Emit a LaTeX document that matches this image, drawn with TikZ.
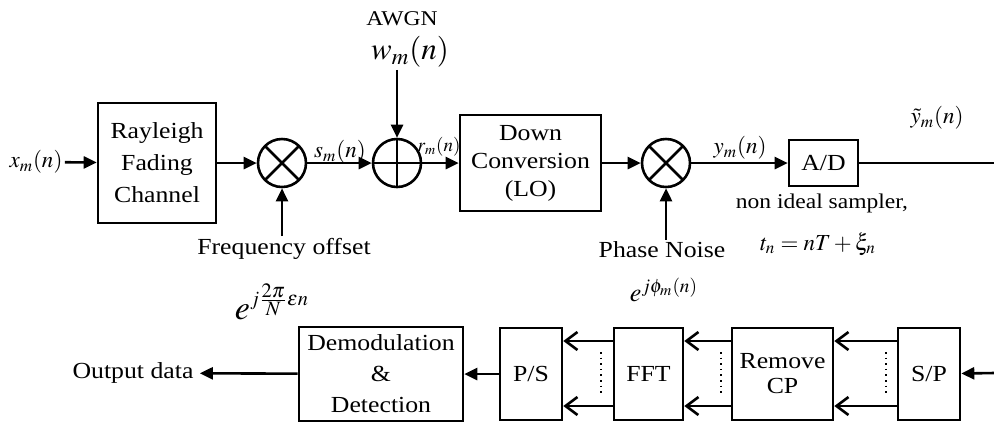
\documentclass[tikz,border=0pt]{standalone}
\usepackage{mathptmx}
\usepackage{fontspec}
\setmainfont{Liberation Serif}[FakeStretch=1.12]
\usetikzlibrary{arrows.meta,positioning,calc}
\tikzset{
  blockbox/.style={rectangle,draw=black,line width=1.3pt,align=center,inner sep=1pt},
  mixer/.style={circle,draw=black,line width=1.3pt,minimum size=24pt,inner sep=0pt,
    path picture={\draw[line width=1.3pt]
      (path picture bounding box.north west) -- (path picture bounding box.south east)
      (path picture bounding box.north east) -- (path picture bounding box.south west);}},
  adder/.style={circle,draw=black,line width=1.3pt,minimum size=24pt,inner sep=0pt,
    path picture={\draw[line width=1.3pt]
      (path picture bounding box.north) -- (path picture bounding box.south)
      (path picture bounding box.west) -- (path picture bounding box.east);}},
  sig/.style={-{Triangle[length=6.5pt,width=6pt]},line width=1.3pt},
  plink/.style={-{Straight Barb[length=6pt,width=9pt]},line width=1.3pt},
  dotsep/.style={dotted,line width=0.8pt},
  lbl/.style={inner sep=1pt},
}
\begin{document}
\begin{tikzpicture}[x=0.5pt,y=-0.5pt,font=\fontsize{11.5}{15}\selectfont]
\useasboundingbox (0,0) rectangle (994,425);
% transmitter side and channel
\node[lbl] (xin) at (36,162) {$x_m(n)$};
\node[blockbox,minimum width=59pt,minimum height=60pt,font=\fontsize{11.5}{16}\selectfont] (ray) at (157,163) {Rayleigh\\Fading\\Channel};
\node[mixer] (mix1) at (282,163) {};
\node[adder] (add) at (397,163) {};
\node[blockbox,minimum width=70.5pt,minimum height=48pt,font=\fontsize{11.5}{14}\selectfont] (dc) at (530.5,163) {Down\\Conversion\\(LO)};
\node[mixer] (mix2) at (666,163) {};
\node[blockbox,minimum width=34.5pt,minimum height=23pt] (ad) at (823.5,163) {A/D};
\coordinate (tend) at (994,163);

\node[lbl] (awgn) at (402,19) {\fontsize{10.5}{11}\selectfont AWGN};
\node[lbl] (wm) at (410,52) {\fontsize{15.5}{17}\selectfont $w_m(n)$};
\node[lbl] (fo) at (284,249) {Frequency offset};
\node[lbl] (efo) at (272,302) {\fontsize{17}{18}\selectfont $e^{\scriptscriptstyle j\frac{2\pi}{N}\varepsilon n}$};
\node[lbl] (ph) at (662,250) {Phase Noise};
\node[lbl] (eph) at (664,290) {\fontsize{13}{14}\selectfont $e^{j\phi_m(n)}$};

% signal names on the links
\node[lbl] at (340,152) {$s_m(n)$};
\node[lbl] at (439,147) {\fontsize{9.5}{10}\selectfont $r_m(n)$};
\node[lbl] at (740,148) {$y_m(n)$};
\node[lbl] at (937,118) {$\tilde{y}_m(n)$};
\node[lbl] at (822,203) {\fontsize{10.5}{12}\selectfont non ideal sampler,};
\node[lbl] at (818,244) {$t_n = nT + \xi_n$};

\draw[sig] (xin) -- (ray);
\draw[sig] (ray) -- (mix1);
\draw[sig] (mix1) -- (add);
\draw[sig] (add) -- (dc);
\draw[sig] (dc) -- (mix2);
\draw[sig] (mix2) -- (ad);
\draw[line width=1.3pt] (ad) -- (tend);
\draw[sig] (wm.south -| add) -- (add);
\draw[sig] (fo.north -| mix1) -- (mix1);
\draw[sig] (ph.north -| mix2) -- (mix2);

% receiver chain
\node[blockbox,minimum width=82pt,minimum height=47pt,font=\fontsize{11.5}{15.5}\selectfont] (demod) at (381,374) {Demodulation\\\&\\Detection};
\node[blockbox,minimum width=31pt,minimum height=46pt] (ps) at (531,374) {P/S};
\node[blockbox,minimum width=34.5pt,minimum height=46pt] (fft) at (648.5,374) {FFT};
\node[blockbox,minimum width=50.5pt,minimum height=46pt,font=\fontsize{11.5}{12.5}\selectfont] (rcp) at (782.5,374) {Remove\\CP};
\node[blockbox,minimum width=31pt,minimum height=46pt] (sp) at (929,374) {S/P};
\node[lbl,inner sep=3pt] (out) at (133,373) {Output data};
\coordinate (bin) at (994,373);

\draw[sig] (bin) -- (sp);
\draw[plink] ([yshift=16.5pt]sp.west) -- ([yshift=16.5pt]rcp.east);
\draw[plink] ([yshift=-16pt]sp.west) -- ([yshift=-16pt]rcp.east);
\draw[dotsep] ([xshift=-5.5pt,yshift=11pt]sp.west) -- ([xshift=-5.5pt,yshift=-10pt]sp.west);
\draw[plink] ([yshift=16.5pt]rcp.west) -- ([yshift=16.5pt]fft.east);
\draw[plink] ([yshift=-16pt]rcp.west) -- ([yshift=-16pt]fft.east);
\draw[dotsep] ([xshift=-5pt,yshift=11pt]rcp.west) -- ([xshift=-5pt,yshift=-10pt]rcp.west);
\draw[plink] ([yshift=16.5pt]fft.west) -- ([yshift=16.5pt]ps.east);
\draw[plink] ([yshift=-16pt]fft.west) -- ([yshift=-16pt]ps.east);
\draw[dotsep] ([xshift=-6pt,yshift=11pt]fft.west) -- ([xshift=-6pt,yshift=-10pt]fft.west);
\draw[sig] (ps) -- (demod);
\draw[sig] (demod) -- (out);
\end{tikzpicture}
\end{document}
